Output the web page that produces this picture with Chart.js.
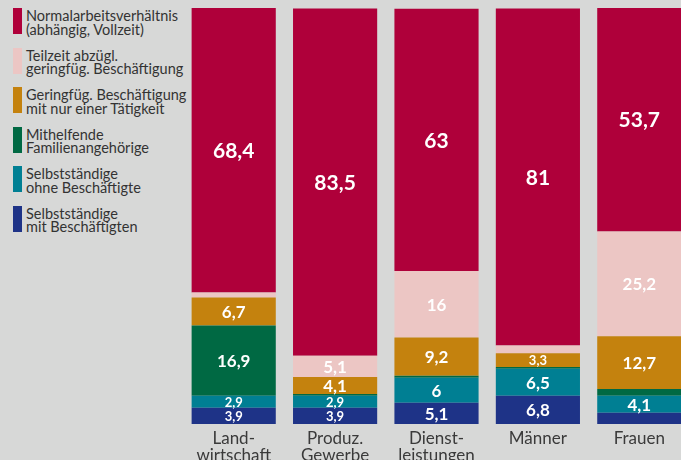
<!DOCTYPE html>
<html lang="de">
<head>
  <meta charset="UTF-8">
  <title>Erwerbsformen</title>
  <style>
    html, body {
      margin: 0;
      padding: 0;
      background: #d7d8d7;
      overflow: hidden;
      width: 681px;
      height: 460px;
    }
    #wrap {
      position: absolute;
      left: 0;
      top: 0;
      width: 690px;
      height: 460px;
    }
    #legend {
      position: absolute;
      left: 13px;
      top: 8px;
      font-family: Lato, sans-serif;
      font-size: 14.5px;
      line-height: 13.5px;
      color: #333;
    }
    #legend .item {
      position: relative;
      height: 25px;
      margin-bottom: 13.6px;
      padding-left: 13px;
      padding-top: 1px;
    }
    #legend .box {
      position: absolute;
      left: 0;
      top: 0;
      width: 9px;
      height: 26px;
    }
  </style>
</head>
<body>
  <div id="legend"></div>
  <div id="wrap"><canvas id="chart"></canvas></div>

  <script src="https://cdn.jsdelivr.net/npm/chart.js"></script>
  <script>
    // categories and series (percent)
    const categories = [['Land-', 'wirtschaft'], ['Produz.', 'Gewerbe'], ['Dienst-', 'leistungen'], 'Männer', 'Frauen'];
    const normal = [68.4, 83.5, 63, 81, 53.7];
    const teilzeit = [1.2, 5.1, 16, 1.9, 25.2];
    const geringfuegig = [6.7, 4.1, 9.2, 3.3, 12.7];
    const mithelfende = [16.9, 0.4, 0.5, 0.4, 1.6];
    const ohneBeschaeftigte = [2.9, 2.9, 6, 6.5, 4.1];
    const mitBeschaeftigten = [3.9, 3.9, 5.1, 6.8, 2.7];

    const seriesNames = [
      ['Normalarbeitsverhältnis', '(abhängig, Vollzeit)'],
      ['Teilzeit abzügl.', 'geringfüg. Beschäftigung'],
      ['Geringfüg. Beschäftigung', 'mit nur einer Tätigkeit'],
      ['Mithelfende', 'Familienangehörige'],
      ['Selbstständige', 'ohne Beschäftigte'],
      ['Selbstständige', 'mit Beschäftigten']
    ];
    const seriesData = [normal, teilzeit, geringfuegig, mithelfende, ohneBeschaeftigte, mitBeschaeftigten];
    const colors = ['#af003a', '#ecc6c4', '#c4820e', '#006943', '#007f93', '#1e3387'];

    // legend on the left
    const legend = document.getElementById('legend');
    seriesNames.forEach((name, i) => {
      const item = document.createElement('div');
      item.className = 'item';
      item.innerHTML = '<span class="box" style="background:' + colors[i] + '"></span>' + name.join('<br>');
      legend.appendChild(item);
    });

    // bottom segment first
    const datasets = seriesData.map((d, i) => ({
      label: seriesNames[i].join(' '),
      data: d,
      backgroundColor: colors[i],
      borderWidth: 0,
      barPercentage: 1,
      categoryPercentage: 0.83
    })).reverse();

    const valueLabels = {
      id: 'valueLabels',
      afterDatasetsDraw(chart) {
        const ctx = chart.ctx;
        ctx.save();
        ctx.fillStyle = '#fff';
        ctx.textAlign = 'center';
        ctx.textBaseline = 'middle';
        chart.data.datasets.forEach((ds, di) => {
          const meta = chart.getDatasetMeta(di);
          meta.data.forEach((bar, i) => {
            const v = ds.data[i];
            if (v < 2.8) return;
            let size = 13;
            if (v >= 50) size = 21;
            else if (v >= 4) size = 17;
            ctx.font = 'bold ' + size + 'px Lato, sans-serif';
            const txt = String(v).replace('.', ',');
            ctx.fillText(txt, bar.x, (bar.y + bar.base) / 2 + 1);
          });
        });
        ctx.restore();
      }
    };

    new Chart(document.getElementById('chart'), {
      type: 'bar',
      data: { labels: categories, datasets: datasets },
      options: {
        responsive: true,
        maintainAspectRatio: false,
        animation: false,
        layout: { padding: { left: 183, top: 8, right: 0, bottom: 0 } },
        plugins: {
          legend: { display: false },
          tooltip: { enabled: false }
        },
        scales: {
          x: {
            stacked: true,
            grid: { display: false, drawBorder: false },
            border: { display: false },
            ticks: {
              color: '#3a3a3a',
              font: { family: 'Lato', size: 17, lineHeight: 1.0 },
              padding: -2,
              maxRotation: 0,
              autoSkip: false
            },
            afterFit(scale) { scale.height = 36; }
          },
          y: {
            stacked: true,
            display: false,
            min: 0,
            max: 100
          }
        }
      },
      plugins: [valueLabels]
    });
  </script>
</body>
</html>
